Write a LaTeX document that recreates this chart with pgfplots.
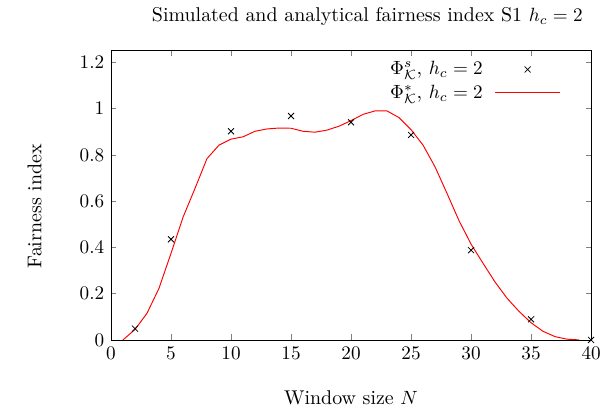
\documentclass[border=0pt]{standalone}
\usepackage{pgfplots}
\pgfplotsset{compat=1.18}
\pgfplotsset{
  every axis/.append style={font=\fontsize{10.4}{12.5}\selectfont},
  markleg/.style={legend image code/.code={\draw[black, mark=x, mark size=2.2bp] plot coordinates {(0.6cm,0cm)};}},
  lineleg/.style={legend image code/.code={\draw[color=red, line width=0.6pt] (0cm,0.2bp) -- (1.2cm,0.2bp);}},
}
\begin{document}
\begin{tikzpicture}
\begin{axis}[
  scale only axis,
  width=249.6bp, height=150.3bp,
  xmin=0, xmax=40, ymin=0, ymax=1.25,
  xtick={0,5,...,40},
  ytick={0,0.2,0.4,0.6,0.8,1,1.2},
  tick align=inside,
  major tick length=0.1cm,
  title={Simulated and analytical fairness index S1 $h_c=2$},
  title style={at={(axis description cs:0.534,1.078)}, anchor=center},
  xlabel={Window size $N$},
  xlabel style={at={(axis description cs:0.5,-0.2)}, anchor=center},
  ylabel={Fairness index},
  ylabel style={at={(axis description cs:-0.159,0.462)}, anchor=center},
  legend plot pos=right,
  legend cell align=right,
  legend style={draw=none, fill=none, at={(0.942,0.978)}, anchor=north east, row sep=2pt, inner sep=1pt,
    nodes={inner sep=1pt},
    /tikz/every odd column/.append style={column sep=5bp}},
]
\addplot[only marks, mark=x, mark size=2.2bp, black, markleg]
coordinates {
(2,0.049) (5,0.435) (10,0.902) (15,0.968) (20,0.941) (25,0.886) (30,0.388) (35,0.089) (40,0.0)
};
\addlegendentry{$\Phi^{s}_{\mathcal{K}}$, $h_c=2$}
\addplot[red, no marks, line width=0.5pt, lineleg]
coordinates {
(1,0.0) (2,0.045) (3,0.115) (4,0.223) (5,0.374) (6,0.53) (7,0.655) (8,0.784)
(9,0.842) (10,0.868) (11,0.878) (12,0.902) (13,0.912) (14,0.916) (15,0.915)
(16,0.902) (17,0.898) (18,0.907) (19,0.924) (20,0.948) (21,0.975) (22,0.990)
(23,0.990) (24,0.961) (25,0.909) (26,0.842) (27,0.748) (28,0.633) (29,0.515)
(30,0.414) (31,0.331) (32,0.250) (33,0.180) (34,0.123) (35,0.074) (36,0.037)
(37,0.014) (38,0.003) (39,0.0)
};
\addlegendentry{$\Phi^{*}_{\mathcal{K}}$, $h_c=2$}
\end{axis}
\pgfresetboundingbox
\path[use as bounding box] ([shift={(-57.7bp,-37.4bp)}]current axis.south west) rectangle ([shift={(11.4bp,26.4bp)}]current axis.north east);
\end{tikzpicture}
\end{document}
